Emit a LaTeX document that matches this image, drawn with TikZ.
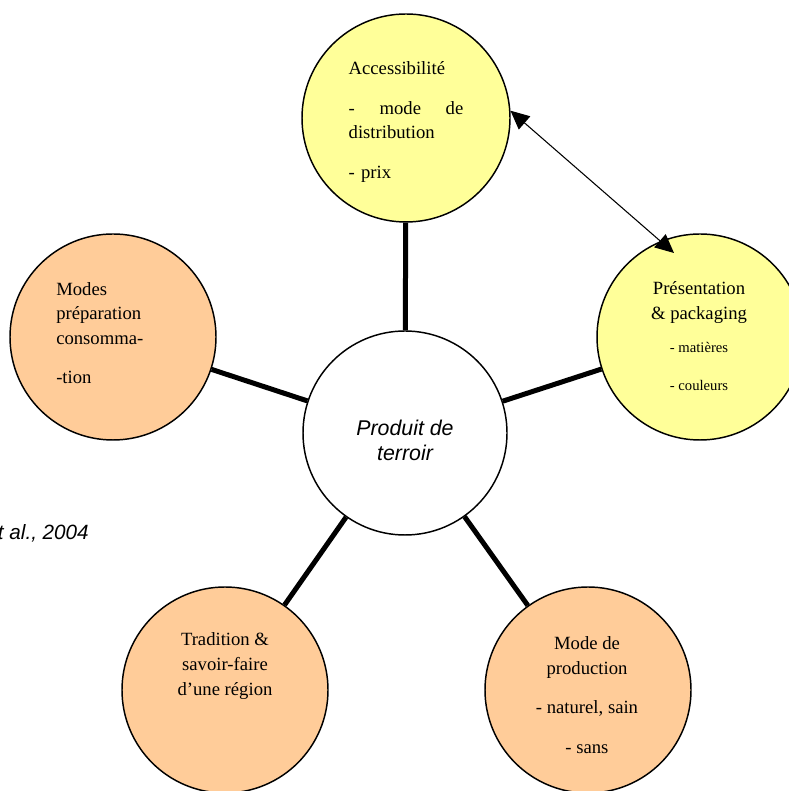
\documentclass[tikz,border=0pt]{standalone}
\usepackage{fontspec}
\setmainfont{Liberation Serif}
\newfontfamily\arialfont{Liberation Sans}
\usetikzlibrary{arrows.meta}

\definecolor{jaunepole}{RGB}{255,255,153}
\definecolor{orangepole}{RGB}{255,204,153}

\begin{document}
\begin{tikzpicture}[x=0.75pt, y=0.75pt,
  pole/.style={circle, draw=black, line width=1.1pt, minimum size=154.5pt, inner sep=0pt},
  polejaune/.style={pole, fill=jaunepole},
  poleorange/.style={pole, fill=orangepole},
  texte/.style={inner sep=0pt, font=\fontsize{14}{18.5}\selectfont},
  lien/.style={line width=3.75pt},
  fleche/.style={line width=0.8pt, <->, >={Triangle[length=14pt,width=13pt]}}]

  \useasboundingbox (0,0) rectangle (788,791);

  % Nodes
  \node (centre) [pole, fill=white, minimum size=153pt] at (405,358) {};
  \node (acces) [polejaune, minimum size=156pt] at (406,673) {};
  \node (present) [polejaune] at (700,454) {};
  \node (modes) [poleorange] at (113,454) {};
  \node (tradition) [poleorange] at (225,101) {};
  \node (production) [poleorange] at (588,101) {};
  \coordinate (pointe) at (674,538);

  \node (tCentre) [inner sep=0pt, align=center, font=\arialfont\itshape\fontsize{16}{18.75}\selectfont] at (405,351) {Produit de\\ terroir};
  \node (tAcces) [texte, text width=86pt, align=left] at (406,669) {Accessibilité\\[11pt] \leavevmode\hbox to 86pt{-\hfill mode\hfill de}\\ distribution\\[11pt] - prix};
  \node (tPresent) [texte, align=center] at (699,455) {Présentation\\ \& packaging\\[6pt] {\fontsize{11}{14}\selectfont - matières}\\[10pt] {\fontsize{11}{14}\selectfont - couleurs}};
  \node (tModes) [texte, text width=75pt, align=left, anchor=west] at (56,458) {Modes\\ préparation\\ consomma-\\[11pt] -tion};
  \node (tTradition) [texte, align=center] at (225,125) {Tradition \&\\ savoir-faire\\ d’une région};
  \node (tProduction) [texte, align=center] at (587,96) {Mode de\\ production\\[11pt] - naturel, sain\\[11pt] - sans};
  \node (source) [anchor=base east, inner sep=0pt, font=\arialfont\itshape\fontsize{15.5}{18}\selectfont] at (89,251) {et al., 2004};

  % Arrows
  \draw [lien] (centre) -- (acces);
  \draw [lien] (centre) -- (present);
  \draw [lien] (centre) -- (modes);
  \draw [lien] (centre) -- (tradition);
  \draw [lien] (centre) -- (production);
  \draw [fleche] (acces.4) -- (pointe);
\end{tikzpicture}
\end{document}
